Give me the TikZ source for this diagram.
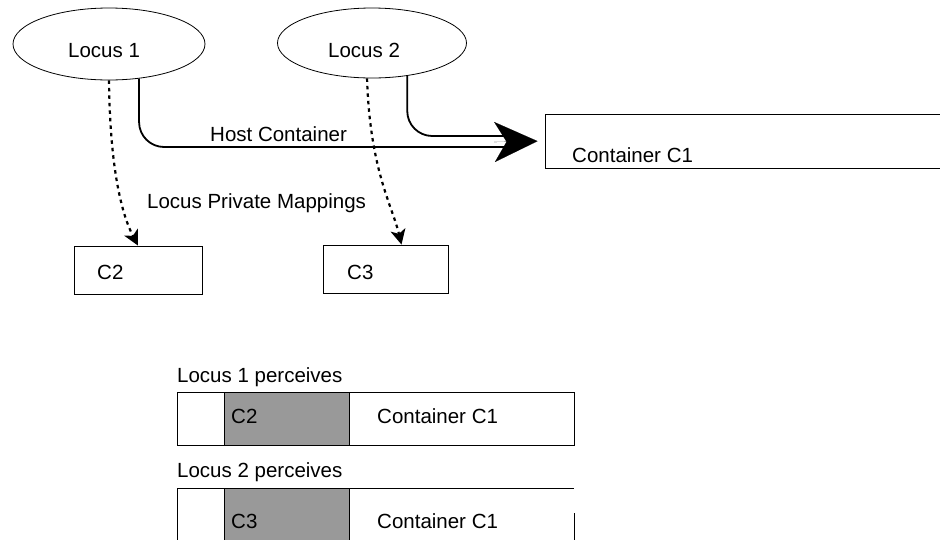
\documentclass[tikz,border=0pt]{standalone}
\usepackage{fontspec}
\setmainfont{Liberation Sans}
\usetikzlibrary{shapes.geometric,arrows.meta,calc}
\begin{document}
\begin{tikzpicture}[x=1pt,y=-1pt,
 txt/.style={inner sep=0pt, anchor=base west, font=\fontsize{20.5}{24}\selectfont},
 locus/.style={draw, ellipse, line width=0.8pt, inner sep=0pt},
 box/.style={draw, rectangle, line width=0.9pt, inner sep=0pt},
 host/.style={line width=1.8pt, rounded corners=25pt},
 priv/.style={line width=2.2pt, dash pattern=on 3.5pt off 4pt, -{Stealth[length=15pt,width=15pt,inset=4pt]}},
 shade/.style={fill=black!40, draw=none},
]
\useasboundingbox (0,0) rectangle (940,539);
\clip (0,0) rectangle (940,539);

% loci
\node[locus, minimum width=192pt, minimum height=72pt] (l1) at (109,44) {};
\node[locus, minimum width=189pt, minimum height=70pt] (l2) at (372,43) {};
\node[txt] (t1) at (68,57) {Locus 1};
\node[txt] (t2) at (328,57) {Locus 2};

% containers
\node[box, minimum width=405pt, minimum height=54pt] (c1) at (747.5,141) {};
\node[txt] (c1t) at (572,162) {Container C1};
\node[box, minimum width=128pt, minimum height=48pt] (c2) at (138,270) {};
\node[txt] (c2t) at (97,279) {C2};
\node[box, minimum width=125pt, minimum height=48pt] (c3) at (385.5,269) {};
\node[txt] (c3t) at (347,279) {C3};

% host container connectors
\coordinate (hb1) at (508,147);
\coordinate (hb2) at (508,136);
\coordinate (hb0) at (494,142);
\draw[host] (l1.-49) |- (hb1);
\draw[host] (l2.-43) |- (hb2);
\draw[line width=0.1pt, shorten >=7pt, -{Stealth[length=43pt,width=40pt,inset=12pt]}] (hb0) -- (c1.west);
\node[txt] (hostl) at (210,141) {Host Container};

% private mappings
\coordinate (c3in) at ($(c3.north)+(16,0)$);
\draw[priv] (l1.south) .. controls (110,170) and (122,215) .. (c2.north);
\draw[priv] (l2.-98) .. controls (370,170) and (392,205) .. (c3in);
\node[txt] (privl) at (147,208) {Locus Private Mappings};

% perceived views
\node[txt] (p1) at (177,382) {Locus 1 perceives};
\path[shade] (224,392) rectangle (349,445);
\node[box, minimum width=397pt, minimum height=53pt] (v1) at (375.5,418.5) {};
\draw[line width=0.9pt] (224,392) -- (224,445);
\draw[line width=0.9pt] (349,392) -- (349,445);
\node[txt] (v1a) at (231,423) {C2};
\node[txt] (v1b) at (377,423) {Container C1};

\node[txt] (p2) at (177,477) {Locus 2 perceives};
\path[shade] (224,488) rectangle (349,560);
\draw[line width=0.9pt] (177,560) -- (177,488) -- (574,488);
\draw[line width=0.9pt] (574,513) -- (574,560);
\draw[line width=0.9pt] (224,488) -- (224,560);
\draw[line width=0.9pt] (349,488) -- (349,560);
\node[txt] (v2a) at (231,528) {C3};
\node[txt] (v2b) at (377,528) {Container C1};
\end{tikzpicture}
\end{document}
